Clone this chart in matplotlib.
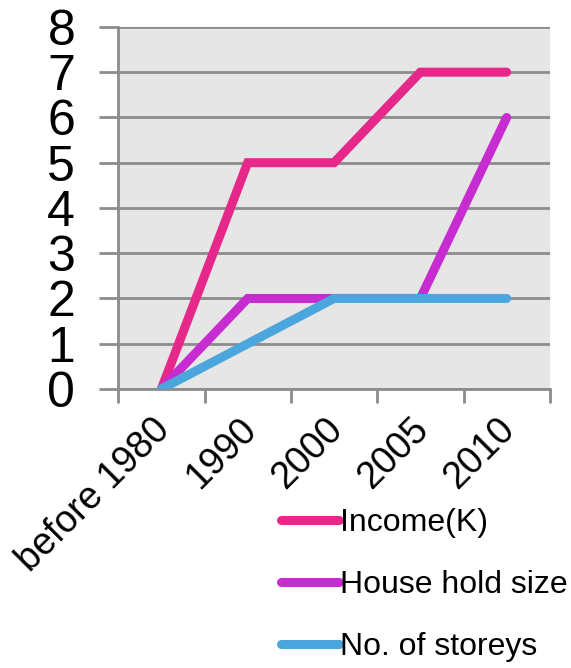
import matplotlib.pyplot as plt
import matplotlib.transforms as mtransforms
import numpy as np

plt.rcParams['font.family'] = ['Liberation Sans', 'DejaVu Sans']

categories = ['before 1980', '1990', '2000', '2005', '2010']
income = [0, 5, 5, 7, 7]
household = [0, 2, 2, 2, 6]
storeys = [0, 1, 2, 2, 2]

series = [
    ('Income(K)', income, '#e6288a'),
    ('House hold size', household, '#c62ccf'),
    ('No. of storeys', storeys, '#4aa6dc'),
]

fig = plt.figure(figsize=(5.71, 6.68), dpi=100)
ax = fig.add_axes([0.207, 0.4177, 0.756, 0.542])
ax.set_facecolor('#e6e6e6')

x = np.arange(len(categories))
for label, vals, color in series:
    ax.plot(x, vals, color=color, lw=6.5, label=label, solid_capstyle='round',
            solid_joinstyle='miter', zorder=3)

ax.set_xlim(-0.5, len(categories) - 0.5)
ax.set_ylim(0, 8)
ax.set_yticks(range(0, 9))
ax.tick_params(axis='y', labelsize=36, length=14, width=2, color='#8c8c8c', pad=17)

# category boundaries as major ticks, labels on minor ticks
ax.set_xticks(np.arange(-0.5, len(categories), 1.0))
ax.set_xticklabels([])
ax.set_xticks(x, minor=True)
ax.set_xticklabels(categories, minor=True, rotation=45, ha='right',
                   rotation_mode='anchor', fontsize=27)
ax.tick_params(axis='x', which='major', length=10, width=2, color='#8c8c8c')
ax.tick_params(axis='x', which='minor', length=0, pad=16)
shift = mtransforms.ScaledTranslation(-10 / 100, 0, fig.dpi_scale_trans)
for lab in ax.get_xticklabels(minor=True):
    lab.set_transform(lab.get_transform() + shift)

ax.grid(axis='y', color='#8c8c8c', lw=2, zorder=1)
ax.set_axisbelow(True)
for s in ['top', 'right']:
    ax.spines[s].set_visible(False)
ax.spines['left'].set_color('#8c8c8c')
ax.spines['left'].set_linewidth(2)
ax.spines['bottom'].set_color('#8c8c8c')
ax.spines['bottom'].set_linewidth(2)

fig.legend(loc='upper left', bbox_to_anchor=(0.4925, 0.2395), frameon=False,
           fontsize=23, handlelength=1.8, handletextpad=0.05, labelspacing=1.0,
           borderaxespad=0, borderpad=0)

plt.savefig('out.png', dpi=100)
